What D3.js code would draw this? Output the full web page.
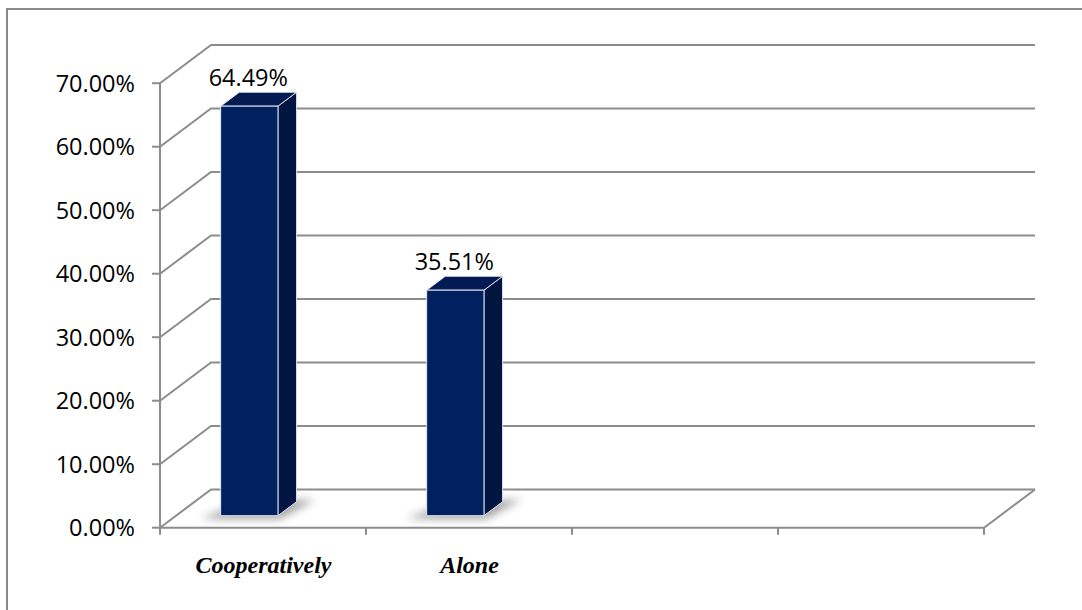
<!DOCTYPE html>
<html>
<head>
<meta charset="utf-8">
<script src="https://cdn.jsdelivr.net/npm/d3@7/dist/d3.min.js"></script>
<style>
  html, body { margin: 0; padding: 0; background: #fff; }
  svg { display: block; }
</style>
</head>
<body>
<svg id="chart" width="1082" height="610"></svg>
<script>
// ---- data ----
const categories = ["Cooperatively", "Alone", "", ""];
const categoryIds = ["c1", "c2", "c3", "c4"];
const values = [0.6449, 0.3551, null, null];
const yTicks = [0, 0.1, 0.2, 0.3, 0.4, 0.5, 0.6, 0.7];

// ---- layout ----
const W = 1082, H = 610;
const svg = d3.select("#chart");
const depth = { dx: 51, dy: -38.2 };
const barFront = 0.315, barBack = 0.68;
const barOffset = 44.6, barWidth = 57.3;
const gridColor = "#8c8c8c";
const numFont = "Open Sans, sans-serif";

const x = d3.scaleBand().domain(categoryIds).range([160, 984]).padding(0);
const y = d3.scaleLinear().domain([0, 0.7]).range([527.7, 83.2]);
const fmt = d3.format(".2%");

function P(px, v, t) { return [px + t * depth.dx, y(v) + t * depth.dy]; }

const defs = svg.append("defs");
defs.append("filter").attr("id", "blur").attr("x", "-50%").attr("y", "-50%").attr("width", "200%").attr("height", "200%")
  .append("feGaussianBlur").attr("stdDeviation", 4);

// outer border
svg.append("rect").attr("x", 7).attr("y", 9).attr("width", W + 20).attr("height", H + 20)
  .attr("fill", "none").attr("stroke", "#8a8a8a").attr("stroke-width", 2);

const grid = svg.append("g");
const x0 = x.range()[0], x1 = x.range()[1];
// back wall gridlines + left wall diagonals
yTicks.forEach(v => {
  const a = P(x0, v, 0), b = P(x0, v, 1), c = P(x1, v, 1);
  grid.append("polyline").attr("points", [a, b, c].map(p => p.join(",")).join(" "))
    .attr("fill", "none").attr("stroke", gridColor).attr("stroke-width", 2);
});
// floor front edge + right diagonal
{
  const a = P(x0, 0, 0), b = P(x1, 0, 0), c = P(x1, 0, 1);
  grid.append("polyline").attr("points", [a, b, c].map(p => p.join(",")).join(" "))
    .attr("fill", "none").attr("stroke", gridColor).attr("stroke-width", 2);
}
// y axis line
grid.append("line").attr("x1", x0).attr("x2", x0).attr("y1", y(0.7)).attr("y2", y(0) + 6)
  .attr("stroke", gridColor).attr("stroke-width", 2);
// y ticks + labels
yTicks.forEach(v => {
  grid.append("line").attr("x1", x0 - 8).attr("x2", x0).attr("y1", y(v)).attr("y2", y(v))
    .attr("stroke", gridColor).attr("stroke-width", 2);
  svg.append("text").attr("x", 135).attr("y", y(v)).attr("dy", "0.36em")
    .attr("text-anchor", "end").attr("font-family", numFont)
    .attr("font-size", 23.5).attr("fill", "#000").text(fmt(v));
});
// x ticks (band boundaries)
const bounds = categoryIds.map(id => x(id)).concat([x1]);
bounds.forEach(bx => {
  grid.append("line").attr("x1", bx).attr("x2", bx).attr("y1", y(0)).attr("y2", y(0) + 7)
    .attr("stroke", gridColor).attr("stroke-width", 2);
});
// category labels
categoryIds.forEach((id, i) => {
  svg.append("text").attr("x", x(id) + x.bandwidth() / 2 + 0.5).attr("y", 573)
    .attr("text-anchor", "middle").attr("font-family", "Liberation Serif, Times New Roman, serif")
    .attr("font-weight", "bold").attr("font-style", "italic").attr("font-size", 24)
    .attr("fill", "#000").text(categories[i]);
});

// bars
const pts = arr => arr.map(p => p.join(",")).join(" ");
categoryIds.forEach((id, i) => {
  const v = values[i];
  if (v == null) return;
  const bx0 = x(id) + barOffset, bx1 = bx0 + barWidth;
  const g = svg.append("g");
  // shadow
  const s1 = P(bx0 - 20, 0, barFront), s2 = P(bx1 + 2, 0, barFront),
        s3 = P(bx1 + 16, 0, barBack + 0.05), s4 = P(bx0 + 6, 0, barBack);
  g.append("polygon").attr("points", pts([[s1[0], s1[1] + 3], [s2[0], s2[1] + 3], [s3[0], s3[1]], [s4[0], s4[1]]]))
    .attr("fill", "#7a7a7a").attr("opacity", 0.7).attr("filter", "url(#blur)");
  const fbl = P(bx0, 0, barFront), fbr = P(bx1, 0, barFront),
        ftl = P(bx0, v, barFront), ftr = P(bx1, v, barFront),
        bbr = P(bx1, 0, barBack), btl = P(bx0, v, barBack), btr = P(bx1, v, barBack);
  const edge = "rgba(235,240,250,0.9)";
  // side
  g.append("polygon").attr("points", pts([fbr, ftr, btr, bbr]))
    .attr("fill", "#001540").attr("stroke", edge).attr("stroke-width", 1);
  // top
  g.append("polygon").attr("points", pts([ftl, ftr, btr, btl]))
    .attr("fill", "#031a52").attr("stroke", edge).attr("stroke-width", 1);
  // front
  g.append("polygon").attr("points", pts([fbl, fbr, ftr, ftl]))
    .attr("fill", "#002060").attr("stroke", edge).attr("stroke-width", 1);
  // value label
  svg.append("text").attr("x", (bx0 + bx1) / 2 + depth.dx * barFront - 1).attr("y", btl[1] - 6.5)
    .attr("text-anchor", "middle").attr("font-family", numFont)
    .attr("font-size", 23.5).attr("fill", "#000").text(fmt(v));
});
</script>
</body>
</html>
